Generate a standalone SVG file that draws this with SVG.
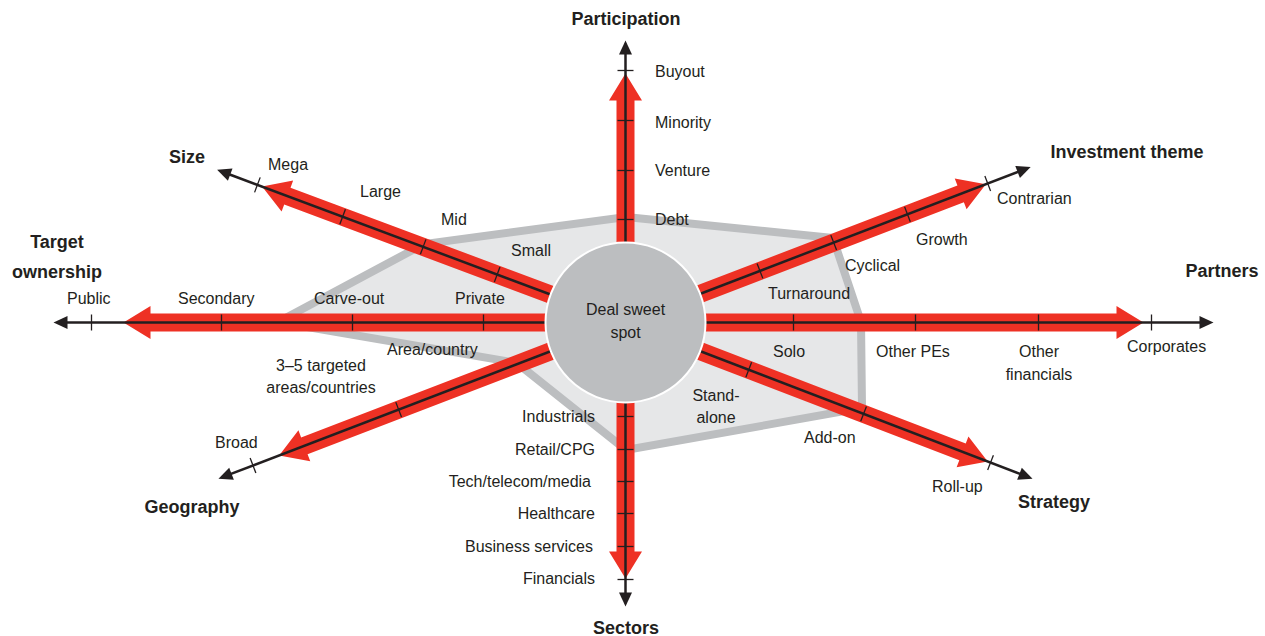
<svg xmlns="http://www.w3.org/2000/svg" width="1265" height="636" viewBox="0 0 1265 636">
<style>
.lbl{font-family:"Liberation Sans",Arial,sans-serif;font-size:16px;fill:#231f20}
.ttl{font-family:"Liberation Sans",Arial,sans-serif;font-size:18px;font-weight:bold;fill:#231f20}
.red{fill:#ee3124}
.blk{stroke:#231f20;stroke-width:2.5;fill:none}
.head{fill:#231f20}
.tick{stroke:#231f20;stroke-width:1.3}
</style>
<rect width="1265" height="636" fill="#ffffff"/>
<g id="sweet-spot-area">
<polygon points="626,217 833,238 861,322 862,408 626,450 517,363 278,322 424,244" fill="#e6e7e8" stroke="#bcbec0" stroke-width="8" stroke-linejoin="miter"/>
</g>
<g id="connectors">
<!-- Participation (up) -->
<g transform="translate(625.5,322.5) rotate(-90)">
<path class="red" d="M0,-9 L222,-9 L222,-16.5 L249,0 L222,16.5 L222,9 L0,9 Z"/>
<line class="blk" x1="0" y1="0" x2="270" y2="0"/>
<path class="head" d="M282,0 L268,-6.5 L268,6.5 Z"/>
<g class="tick"><line x1="103" y1="-8" x2="103" y2="8"/><line x1="152" y1="-8" x2="152" y2="8"/><line x1="202" y1="-8" x2="202" y2="8"/><line x1="252" y1="-8" x2="252" y2="8"/></g>
</g>
<!-- Sectors (down) -->
<g transform="translate(625.5,322.5) rotate(90)">
<path class="red" d="M0,-9 L229,-9 L229,-16.5 L256,0 L229,16.5 L229,9 L0,9 Z"/>
<line class="blk" x1="0" y1="0" x2="272" y2="0"/>
<path class="head" d="M284,0 L270,-6.5 L270,6.5 Z"/>
<g class="tick"><line x1="94" y1="-8" x2="94" y2="8"/><line x1="127" y1="-8" x2="127" y2="8"/><line x1="159" y1="-8" x2="159" y2="8"/><line x1="191" y1="-8" x2="191" y2="8"/><line x1="224" y1="-8" x2="224" y2="8"/><line x1="257" y1="-8" x2="257" y2="8"/></g>
</g>
<!-- Partners (right) -->
<g transform="translate(625.5,322.5)">
<path class="red" d="M0,-9 L491,-9 L491,-16.5 L518,0 L491,16.5 L491,9 L0,9 Z"/>
<line class="blk" x1="0" y1="0" x2="576" y2="0"/>
<path class="head" d="M588,0 L574,-6.5 L574,6.5 Z"/>
<g class="tick"><line x1="168" y1="-8" x2="168" y2="8"/><line x1="290" y1="-8" x2="290" y2="8"/><line x1="413" y1="-8" x2="413" y2="8"/><line x1="526" y1="-8" x2="526" y2="8"/></g>
</g>
<!-- Target ownership (left) -->
<g transform="translate(625.5,322.5) rotate(180)">
<path class="red" d="M0,-9 L475,-9 L475,-16.5 L502,0 L475,16.5 L475,9 L0,9 Z"/>
<line class="blk" x1="0" y1="0" x2="560" y2="0"/>
<path class="head" d="M572,0 L558,-6.5 L558,6.5 Z"/>
<g class="tick"><line x1="142" y1="-8" x2="142" y2="8"/><line x1="273" y1="-8" x2="273" y2="8"/><line x1="404" y1="-8" x2="404" y2="8"/><line x1="534" y1="-8" x2="534" y2="8"/></g>
</g>
<!-- Size (upper left) -->
<g transform="translate(625.5,322.5) rotate(200.5)">
<path class="red" d="M0,-9 L361,-9 L361,-16.5 L388,0 L361,16.5 L361,9 L0,9 Z"/>
<line class="blk" x1="0" y1="0" x2="424" y2="0"/>
<path class="head" d="M436,0 L422,-6.5 L422,6.5 Z"/>
<g class="tick"><line x1="137" y1="-8" x2="137" y2="8"/><line x1="216" y1="-8" x2="216" y2="8"/><line x1="302" y1="-8" x2="302" y2="8"/><line x1="393" y1="-8" x2="393" y2="8"/></g>
</g>
<!-- Investment theme (upper right) -->
<g transform="translate(625.5,322.5) rotate(-21)">
<path class="red" d="M0,-9 L359,-9 L359,-16.5 L386,0 L359,16.5 L359,9 L0,9 Z"/>
<line class="blk" x1="0" y1="0" x2="422" y2="0"/>
<path class="head" d="M434,0 L420,-6.5 L420,6.5 Z"/>
<g class="tick"><line x1="144" y1="-8" x2="144" y2="8"/><line x1="223" y1="-8" x2="223" y2="8"/><line x1="302" y1="-8" x2="302" y2="8"/><line x1="388" y1="-8" x2="388" y2="8"/></g>
</g>
<!-- Strategy (lower right) -->
<g transform="translate(625.5,322.5) rotate(21)">
<path class="red" d="M0,-9 L361,-9 L361,-16.5 L388,0 L361,16.5 L361,9 L0,9 Z"/>
<line class="blk" x1="0" y1="0" x2="424" y2="0"/>
<path class="head" d="M436,0 L422,-6.5 L422,6.5 Z"/>
<g class="tick"><line x1="132" y1="-8" x2="132" y2="8"/><line x1="255" y1="-8" x2="255" y2="8"/><line x1="391" y1="-8" x2="391" y2="8"/></g>
</g>
<!-- Geography (lower left) -->
<g transform="translate(625.5,322.5) rotate(159)">
<path class="red" d="M0,-9 L344,-9 L344,-16.5 L371,0 L344,16.5 L344,9 L0,9 Z"/>
<line class="blk" x1="0" y1="0" x2="424" y2="0"/>
<path class="head" d="M436,0 L422,-6.5 L422,6.5 Z"/>
<g class="tick"><line x1="243" y1="-8" x2="243" y2="8"/><line x1="399" y1="-8" x2="399" y2="8"/></g>
</g>
</g>
<g id="deal-sweet-spot">
<circle cx="625.5" cy="322.5" r="80" fill="#bcbec0" stroke="#ffffff" stroke-width="2"/>
<text class="lbl" x="625.5" y="315" text-anchor="middle">Deal sweet</text>
<text class="lbl" x="625.5" y="338" text-anchor="middle">spot</text>
</g>
<g id="participation">
<text class="ttl" x="626" y="25" text-anchor="middle">Participation</text>
<text class="lbl" x="655" y="77">Buyout</text>
<text class="lbl" x="655" y="128">Minority</text>
<text class="lbl" x="655" y="176">Venture</text>
<text class="lbl" x="655" y="225">Debt</text>
</g>
<g id="size">
<text class="ttl" x="187" y="163" text-anchor="middle">Size</text>
<text class="lbl" x="268" y="170">Mega</text>
<text class="lbl" x="360" y="197">Large</text>
<text class="lbl" x="441" y="225">Mid</text>
<text class="lbl" x="511" y="256">Small</text>
</g>
<g id="target-ownership">
<text class="ttl" x="57" y="248" text-anchor="middle">Target</text>
<text class="ttl" x="57" y="278" text-anchor="middle">ownership</text>
<text class="lbl" x="67" y="304">Public</text>
<text class="lbl" x="178" y="304">Secondary</text>
<text class="lbl" x="314" y="304">Carve-out</text>
<text class="lbl" x="455" y="304">Private</text>
</g>
<g id="investment-theme">
<text class="ttl" x="1127" y="158" text-anchor="middle">Investment theme</text>
<text class="lbl" x="997" y="204">Contrarian</text>
<text class="lbl" x="916" y="245">Growth</text>
<text class="lbl" x="845" y="271">Cyclical</text>
<text class="lbl" x="768" y="299">Turnaround</text>
</g>
<g id="partners">
<text class="ttl" x="1222" y="277" text-anchor="middle">Partners</text>
<text class="lbl" x="773" y="357">Solo</text>
<text class="lbl" x="876" y="357">Other PEs</text>
<text class="lbl" x="1039" y="357" text-anchor="middle">Other</text>
<text class="lbl" x="1039" y="380" text-anchor="middle">financials</text>
<text class="lbl" x="1127" y="352">Corporates</text>
</g>
<g id="strategy">
<text class="ttl" x="1054" y="508" text-anchor="middle">Strategy</text>
<text class="lbl" x="716" y="401" text-anchor="middle">Stand-</text>
<text class="lbl" x="716" y="423" text-anchor="middle">alone</text>
<text class="lbl" x="804" y="443">Add-on</text>
<text class="lbl" x="932" y="492">Roll-up</text>
</g>
<g id="sectors">
<text class="ttl" x="626" y="634" text-anchor="middle">Sectors</text>
<text class="lbl" x="595" y="422" text-anchor="end">Industrials</text>
<text class="lbl" x="595" y="455" text-anchor="end">Retail/CPG</text>
<text class="lbl" x="591" y="487" text-anchor="end">Tech/telecom/media</text>
<text class="lbl" x="595" y="519" text-anchor="end">Healthcare</text>
<text class="lbl" x="593" y="552" text-anchor="end">Business services</text>
<text class="lbl" x="595" y="584" text-anchor="end">Financials</text>
</g>
<g id="geography">
<text class="ttl" x="192" y="513" text-anchor="middle">Geography</text>
<text class="lbl" x="387" y="355">Area/country</text>
<text class="lbl" x="321" y="371" text-anchor="middle">3–5 targeted</text>
<text class="lbl" x="321" y="393" text-anchor="middle">areas/countries</text>
<text class="lbl" x="215" y="448">Broad</text>
</g>
</svg>
